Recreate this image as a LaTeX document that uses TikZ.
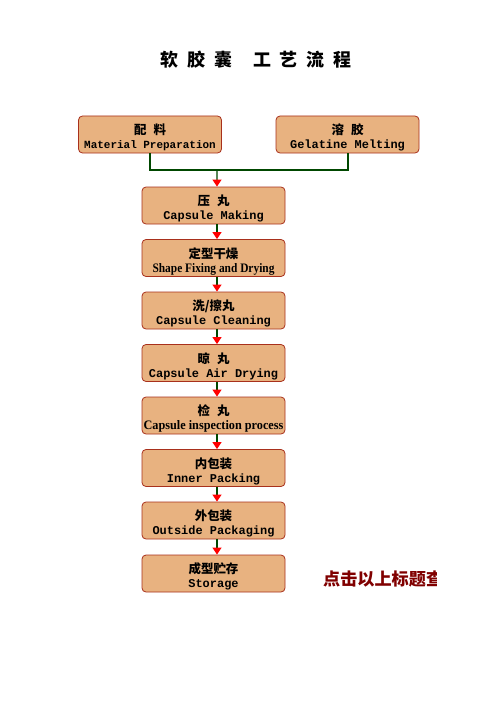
\documentclass[tikz,border=0pt]{standalone}
\usepackage{fontspec}
\setmainfont{Liberation Serif}
\setmonofont{Liberation Mono}
\newfontfamily\zhfont{Noto Sans CJK SC}
\usetikzlibrary{arrows.meta}

\definecolor{boxfill}{RGB}{232,178,128}
\definecolor{boxline}{RGB}{168,48,28}
\definecolor{linkgreen}{RGB}{0,72,0}
\definecolor{notered}{RGB}{128,0,0}

\newcommand{\highstrut}{\rule{0pt}{17bp}}
\newcommand{\cnlab}[1]{{\zhfont\bfseries\fontsize{12.5}{14}\selectfont\highstrut #1}}
\newcommand{\enlab}[2][12]{{\ttfamily\bfseries\fontsize{#1}{14}\selectfont #2}}
\newcommand{\ennarrow}[2]{\scalebox{#1}[1]{\bfseries\fontsize{13}{14}\selectfont #2}}
\newcommand{\gap}{\hspace{9bp}}
\newcommand{\cngap}{\hspace{7bp}}

\tikzset{
	stage/.style={draw=boxline,fill=boxfill,rounded corners=4bp,line width=0.8bp,
		minimum width=143bp,minimum height=37bp,inner sep=0pt,align=center},
	flow/.style={draw=linkgreen,line width=2bp},
	stem/.style={color=linkgreen,line width=1.3bp,
		-{Triangle[length=7bp,width=9bp,color=red]}},
}

\begin{document}
\begin{tikzpicture}[x=1bp,y=-1bp]
		\useasboundingbox (0,0) rectangle (496,702);
		
		\node (title) at (256,60) {\zhfont\bfseries\fontsize{18}{20}\selectfont
			软\gap 胶\gap 囊\hspace{21bp}工\gap 艺\gap 流\gap 程};
		
		% two sources
		\node[stage] (prep) at (150,134.5) {\cnlab{配\cngap 料}\\[2bp]\enlab[11]{Material Preparation}};
		\node[stage] (melt) at (347.5,134.5) {\cnlab{溶\cngap 胶}\\[2bp]\enlab{Gelatine Melting}};
		
		% main line
		\node[stage] (make) at (213.5,205.5) {\cnlab{压\cngap 丸}\\[2bp]\enlab{Capsule Making}};
		\node[stage] (shape) at (213.5,258) {\cnlab{定型干燥}\\[2bp]\ennarrow{0.88}{Shape Fixing and Drying}};
		\node[stage] (clean) at (213.5,310.5) {\cnlab{洗/擦丸}\\[2bp]\enlab{Capsule Cleaning}};
		\node[stage] (airdry) at (213.5,363) {\cnlab{晾\cngap 丸}\\[2bp]\enlab{Capsule Air Drying}};
		\node[stage] (inspect) at (213.5,415.5) {\cnlab{检\cngap 丸}\\[2bp]\ennarrow{0.945}{Capsule inspection process}};
		\node[stage] (inner) at (213.5,468) {\cnlab{内包装}\\[2bp]\enlab{Inner Packing}};
		\node[stage] (outer) at (213.5,520.5) {\cnlab{外包装}\\[2bp]\enlab{Outside Packaging}};
		\node[stage] (store) at (213.5,573.5) {\cnlab{成型贮存}\\[2bp]\enlab{Storage}};
		
		\coordinate (join) at (217,170);
		\draw[flow] (prep.south) |- (join) -| (melt.south);
		
		\path[stem]
		(join)edge([xshift=3.5bp]make.north)
		([xshift=3.5bp]make.south)edge([xshift=3.5bp]shape.north)
		([xshift=3.5bp]shape.south)edge([xshift=3.5bp]clean.north)
		([xshift=3.5bp]clean.south)edge([xshift=3.5bp]airdry.north)
		([xshift=3.5bp]airdry.south)edge([xshift=3.5bp]inspect.north)
		([xshift=3.5bp]inspect.south)edge([xshift=3.5bp]inner.north)
		([xshift=3.5bp]inner.south)edge([xshift=3.5bp]outer.north)
		([xshift=3.5bp]outer.south)edge([xshift=3.5bp]store.north);
		
		\begin{scope}
			\clip (300,560) rectangle (436,600);
			\node[anchor=west,inner sep=0pt,text=notered] (note) at (323,579.5)
				{\zhfont\bfseries\fontsize{17.2}{18}\selectfont 点击以上标题查};
		\end{scope}
\end{tikzpicture}
\end{document}
